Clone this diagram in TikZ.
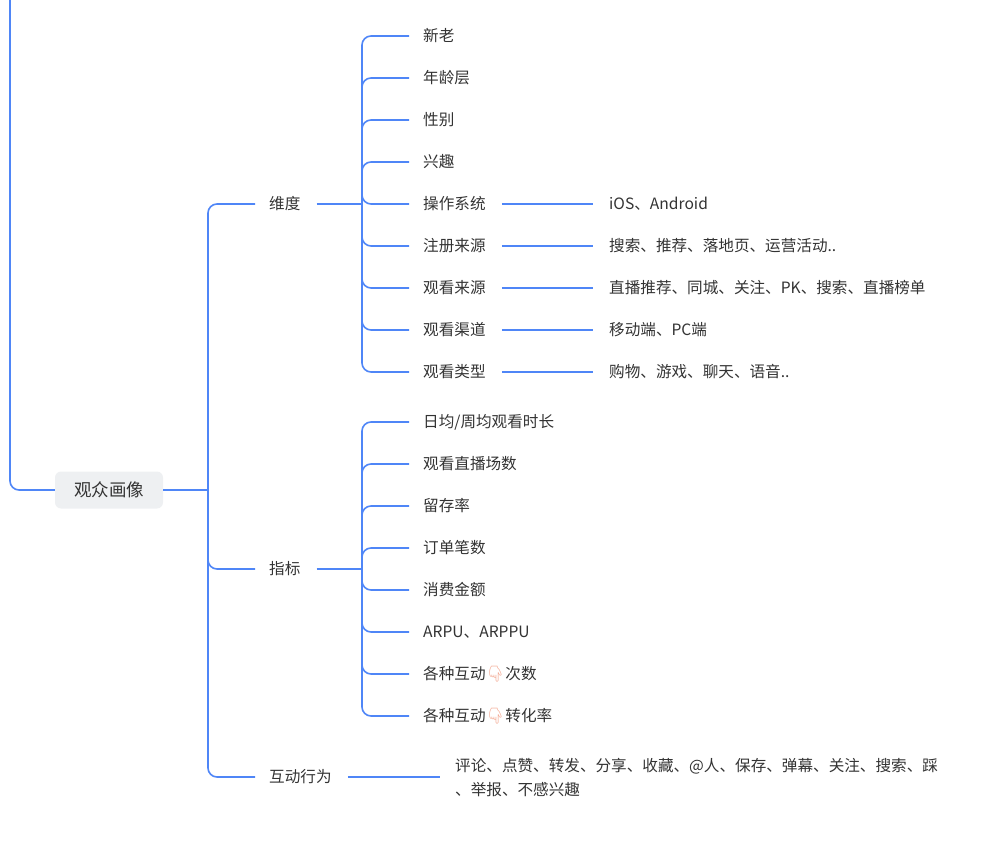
\documentclass[tikz,border=0pt]{standalone}
\usepackage{fontspec}
\setmainfont{Noto Sans CJK SC}
\newfontfamily\emo{Noto Emoji}
\usetikzlibrary{calc}
\definecolor{lnc}{HTML}{4F86F7}
\definecolor{txc}{HTML}{333333}
\definecolor{rootbg}{HTML}{EEF0F2}
\begin{document}
\begin{tikzpicture}[x=1pt,y=-1pt,
  lbl/.style={anchor=west,inner sep=0pt,text=txc,font=\fontsize{15.6}{17}\selectfont},
  conn/.style={draw=lnc,line width=1.6pt},
  br/.style={conn,rounded corners=9pt}]
\useasboundingbox (0,0) rectangle (1007,858);
\node[fill=rootbg,rounded corners=6pt,minimum width=108pt,minimum height=37pt,text=txc,font=\fontsize{17.5}{19}\selectfont] (root) at (109,490) {观众画像};
\coordinate (top) at (10,0);
\draw[br] (top) |- (root.west);
% level 1
\node[lbl] (wd) at (269,204) {维度};
\node[lbl] (zb) at (269,569) {指标};
\node[lbl] (hd) at (269,777) {互动行为};
\coordinate (v1) at (208,490);
\draw[conn] (root.east) -- (v1);
\foreach \n in {wd,zb,hd}{\draw[br] (v1) |- ($(\n.west)+(-14,0)$);}
% 维度 children
\foreach \t/\y/\nm in {新老/36/a1,年龄层/78/a2,性别/120/a3,兴趣/162/a4,操作系统/204/a5,注册来源/246/a6,观看来源/288/a7,观看渠道/330/a8,观看类型/372/a9}{
  \node[lbl] (\nm) at (423,\y) {\t};}
\coordinate (v2) at (362,204);
\draw[conn] ($(wd.east)+(16,0)$) -- (v2);
\foreach \nm in {a1,a2,a3,a4,a5,a6,a7,a8,a9}{\draw[br] (v2) |- ($(\nm.west)+(-14,0)$);}
\foreach \t/\y/\nm/\p in {iOS、Android/204/b5/a5,搜索、推荐、落地页、运营活动../246/b6/a6,直播推荐、同城、关注、PK、搜索、直播榜单/288/b7/a7,移动端、PC端/330/b8/a8,购物、游戏、聊天、语音../372/b9/a9}{
  \node[lbl] (\nm) at (609,\y) {\t};
  \draw[conn] ($(\p.east)+(16,0)$) -- ($(\nm.west)+(-16,0)$);}
% 指标 children
\foreach \t/\y/\nm in {{日均/周均观看时长}/422/c1,观看直播场数/464/c2,留存率/506/c3,订单笔数/548/c4,消费金额/590/c5,ARPU、ARPPU/632/c6,{各种互动{\emo\textcolor[HTML]{F2A68F}{👇}}次数}/674/c7,{各种互动{\emo\textcolor[HTML]{F2A68F}{👇}}转化率}/716/c8}{
  \node[lbl] (\nm) at (423,\y) {\t};}
\coordinate (v3) at (362,569);
\draw[conn] ($(zb.east)+(16,0)$) -- (v3);
\foreach \nm in {c1,c2,c3,c4,c5,c6,c7,c8}{\draw[br] (v3) |- ($(\nm.west)+(-14,0)$);}
% 互动行为
\node[lbl,align=left,anchor=north west,font=\fontsize{15.6}{24}\selectfont] (hdt) at (455,758) {评论、点赞、转发、分享、收藏、@人、保存、弹幕、关注、搜索、踩\\、举报、不感兴趣};
\coordinate (h1) at (440,777);
\draw[conn] ($(hd.east)+(16,0)$) -- (h1);
\end{tikzpicture}
\end{document}
